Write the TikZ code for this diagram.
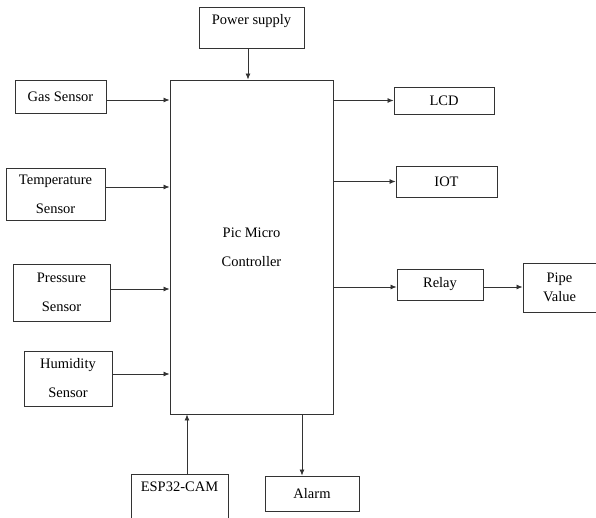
\documentclass[tikz,border=0pt]{standalone}
\usepackage{fontspec}
\setmainfont{Liberation Serif}
\usetikzlibrary{arrows.meta}

\begin{document}
\begin{tikzpicture}[x=1pt,y=-1pt,>={Latex[length=6pt,width=5pt]},
		font=\fontsize{14.5}{29}\selectfont,
		block/.style={draw=black!80, line width=0.9pt, inner sep=0pt, align=center},
		link/.style={draw=black!80, line width=0.8pt, ->}]
		\useasboundingbox (0,0) rectangle (596,517);
		\clip (0,0) rectangle (596,517);
		\node[block, minimum width=105, minimum height=41] (power) at (251.5,27.5) {};
		\node (powertxt) at (251.5,21) {Power supply};
		\node[block, minimum width=163, minimum height=334] (pic) at (251.5,247) {Pic Micro\\Controller};
		\node[block, minimum width=91, minimum height=33] (gas) at (60.5,96.5) {Gas Sensor};
		\node[block, minimum width=99, minimum height=52] (temp) at (55.5,194) {Temperature\\Sensor};
		\node[block, minimum width=97, minimum height=57] (press) at (61.5,292.5) {Pressure\\Sensor};
		\node[block, minimum width=88, minimum height=55] (humid) at (68,378.5) {Humidity\\Sensor};
		\node[block, minimum width=97, minimum height=70] (esp) at (179.5,509) {};
		\node (esptxt) at (179.5,487) {ESP32-CAM};
		\node[block, minimum width=94, minimum height=35] (alarm) at (312,493.5) {Alarm};
		\node[block, minimum width=100, minimum height=27] (lcd) at (444,100.5) {LCD};
		\node[block, minimum width=101, minimum height=31] (iot) at (446.5,181.5) {IOT};
		\node[block, minimum width=86, minimum height=31] (relay) at (440,284.5) {Relay};
		\node[block, minimum width=73, minimum height=49,
			font=\fontsize{14.5}{19}\selectfont] (pipe) at (559.5,287.5) {Pipe\\Value};
		\draw[link] ([xshift=-3.5]power.south) -- ([xshift=-3.5]power.south |- pic.north);
		\draw[link] ([yshift=-3.5]gas.east) -- ([yshift=-3.5]gas.east -| pic.west);
		\draw[link] ([yshift=7]temp.east) -- ([yshift=7]temp.east -| pic.west);
		\draw[link] ([yshift=3.5]press.east) -- ([yshift=3.5]press.east -| pic.west);
		\draw[link] ([yshift=4.5]humid.east) -- ([yshift=4.5]humid.east -| pic.west);
		\draw[link] ([xshift=7.5]esp.north) -- ([xshift=7.5]esp.north |- pic.south);
		\draw[link] ([xshift=-10]alarm.north |- pic.south) -- ([xshift=-10]alarm.north);
		\draw[link] (lcd.west -| pic.east) -- (lcd.west);
		\draw[link] (iot.west -| pic.east) -- (iot.west);
		\draw[link] ([yshift=-2.5]relay.west -| pic.east) -- ([yshift=-2.5]relay.west);
		\draw[link] ([yshift=-2.5]relay.east) -- ([yshift=-2.5]relay.east -| pipe.west);
	\end{tikzpicture}
\end{document}
